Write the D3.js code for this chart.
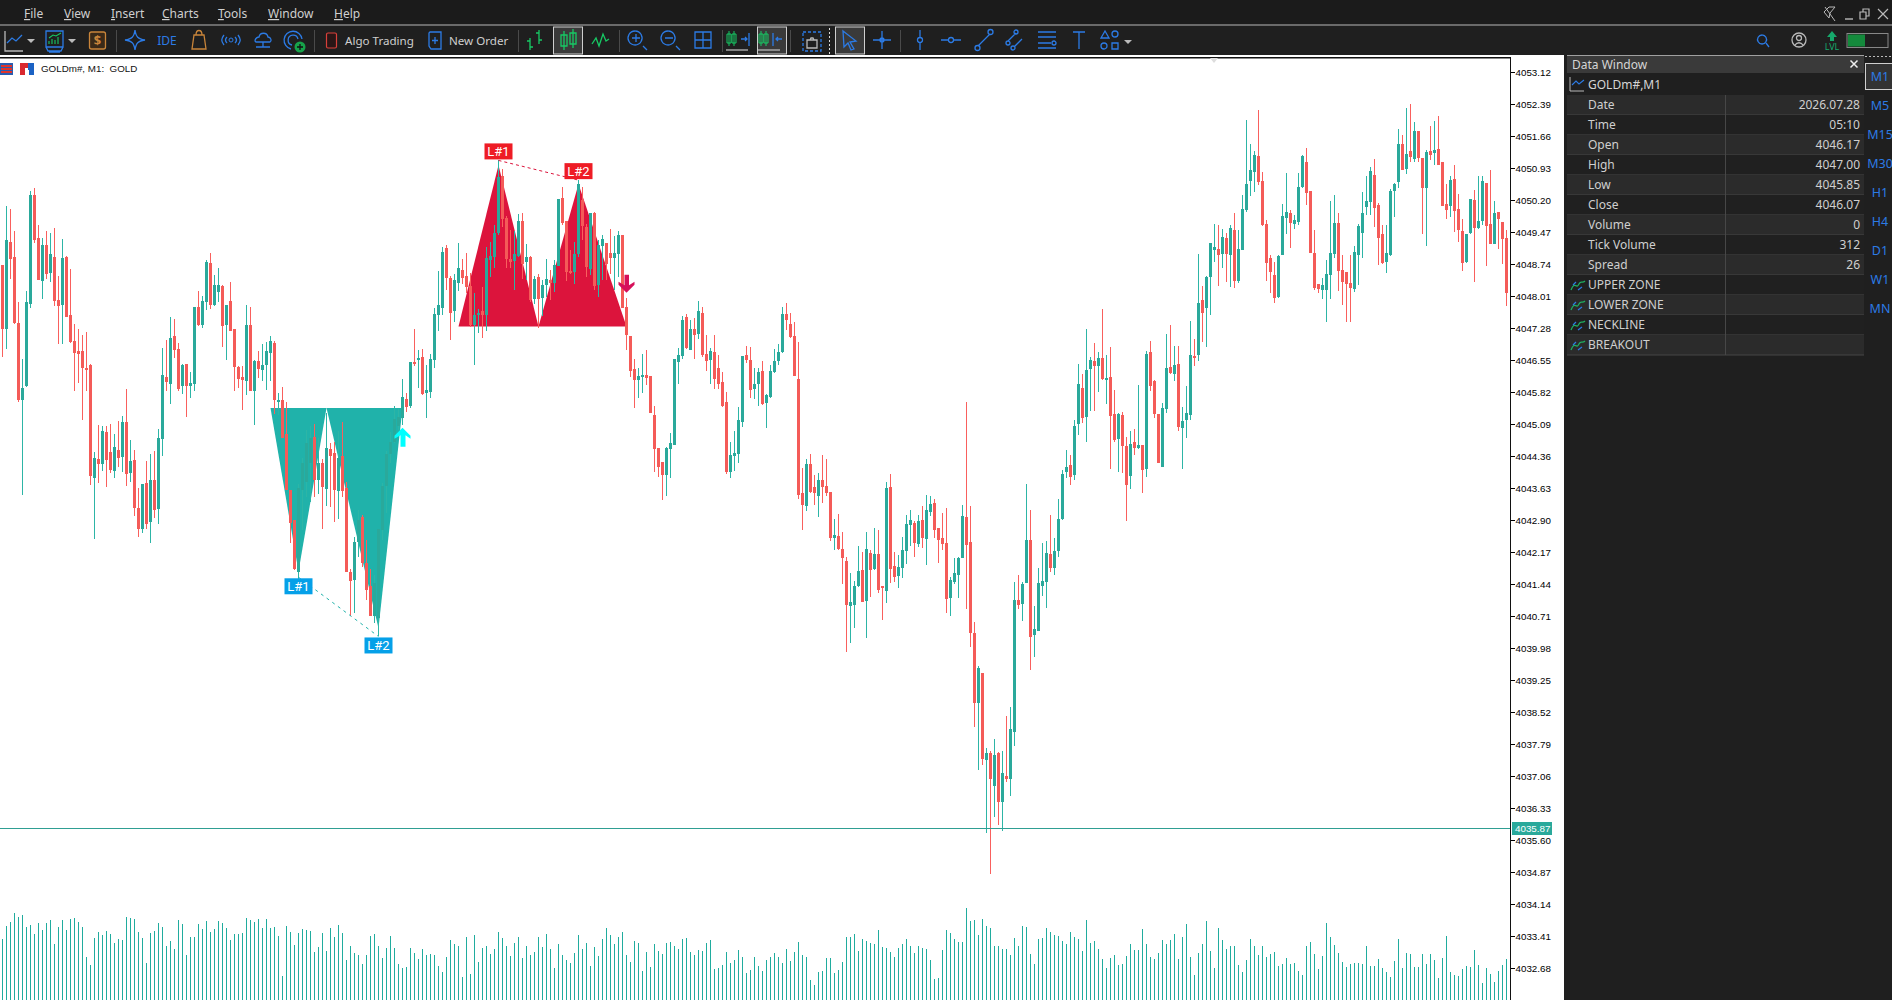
<!DOCTYPE html>
<html>
<head>
<meta charset="utf-8">
<title>GOLDm#, M1</title>
<script src="https://cdn.jsdelivr.net/npm/d3@7"></script>
<style>
html, body { margin: 0; padding: 0; background: #1f1f1f; overflow: hidden; }
svg { display: block; }
text { font-family: "Noto Sans", sans-serif; }
</style>
</head>
<body>
<svg id="chart" width="1892" height="1000"></svg>
<script>
// quotes are stored as the part above 4000
const priceBase = 4000;

const opens = [48.72,47.26,49.25,48.91,47.40,45.65,45.96,47.83,50.32,49.34,
48.36,49.18,48.54,48.91,47.93,47.81,48.91,47.58,46.99,46.76,
46.76,46.37,46.44,43.87,44.30,44.18,44.91,44.46,44.03,44.50,
44.34,45.14,43.98,44.28,43.18,42.70,43.75,42.86,43.82,43.16,
44.75,46.17,46.01,47.10,46.81,45.96,46.47,45.96,46.01,47.76,
47.36,47.88,48.77,47.81,48.11,48.25,47.36,47.90,47.26,46.40,
46.17,46.08,47.36,45.85,46.53,46.33,46.44,46.72,46.95,45.60,
45.65,44.87,43.59,42.91,41.73,43.59,43.78,44.20,44.79,43.82,
44.20,43.61,44.53,44.43,43.57,44.37,43.63,41.73,41.54,42.40,
42.98,41.92,41.39,40.72,40.66,42.68,43.68,44.41,44.69,45.04,
45.23,45.66,45.51,46.51,46.56,46.63,45.80,45.83,46.56,47.58,
47.74,49.11,48.43,47.68,48.31,48.61,48.47,48.25,47.36,47.58,
47.68,47.58,48.84,48.91,49.45,50.75,49.80,48.86,48.82,48.93,
49.73,48.79,48.91,47.95,48.45,47.97,48.27,48.38,48.31,48.70,
50.25,49.73,48.59,48.56,48.97,50.20,49.59,48.63,49.91,48.27,
49.16,49.23,49.00,48.88,48.97,49.41,47.77,47.10,46.35,46.10,
46.17,46.21,46.19,45.30,44.55,44.23,43.94,44.53,44.62,46.51,
46.65,47.54,46.79,47.26,47.15,47.63,46.69,46.56,46.74,46.38,
46.06,45.60,44.00,44.37,44.41,45.14,46.67,46.56,45.89,46.01,
46.30,45.58,45.71,46.28,46.53,46.74,47.61,47.38,47.10,46.12,
43.52,43.23,44.18,43.66,43.45,43.82,43.68,43.55,42.50,42.54,
42.25,41.97,40.94,40.97,41.40,41.77,41.06,42.15,41.79,42.13,
41.40,41.29,43.66,41.86,41.63,41.81,42.20,42.79,42.84,42.36,
42.91,42.48,43.09,43.29,42.72,42.50,42.38,41.13,41.49,41.65,
42.04,42.98,42.40,40.33,38.73,39.42,37.43,37.59,36.84,37.59,
36.47,37.07,37.00,38.07,41.08,40.99,41.47,42.45,40.29,40.38,
41.40,41.49,42.13,41.81,42.20,42.93,44.00,44.16,43.93,45.10,
45.92,45.26,46.35,46.54,46.42,46.60,46.10,46.17,45.33,44.76,
45.30,44.60,43.91,44.69,44.55,44.62,44.07,46.74,46.08,45.33,
44.12,45.44,46.40,46.24,46.47,45.01,45.19,45.30,46.65,46.67,
47.93,47.74,48.45,49.07,49.09,48.98,49.34,48.95,49.52,48.36,
49.07,49.98,50.64,50.85,51.21,50.64,49.66,48.88,48.50,47.99,
48.95,49.80,49.91,49.66,49.71,50.50,51.07,50.41,49.00,48.29,
48.15,48.15,48.50,48.98,49.68,48.61,48.56,48.31,48.18,48.95,
49.45,50.05,50.16,50.78,50.09,49.43,48.79,48.95,50.41,50.62,
51.48,50.91,51.32,51.14,51.78,51.16,50.48,51.32,51.28,51.37,
51.07,50.12,50.07,50.69,50.00,49.50,48.79,49.45,50.21,49.57,
49.73,50.59,49.66,49.20,49.93,49.70,49.34];

const highs = [48.72,50.07,50.00,49.50,47.88,46.58,48.13,50.41,50.48,49.64,
49.34,49.50,49.45,49.57,48.47,49.32,48.93,48.63,47.38,47.26,
47.13,47.20,46.47,44.46,45.07,45.05,45.05,45.10,44.87,45.17,
45.28,45.90,44.73,44.50,43.64,43.73,44.25,44.41,44.48,44.98,
46.83,47.01,47.54,47.49,46.95,46.47,46.47,46.28,47.76,48.13,
48.02,48.84,49.00,48.50,48.66,48.27,47.81,48.34,47.26,46.42,
46.42,47.81,47.76,46.56,46.76,46.92,46.97,47.10,46.99,45.80,
45.94,45.60,43.59,42.91,43.73,44.31,44.96,45.04,45.10,44.77,
44.29,45.34,44.66,44.69,44.94,45.15,43.78,41.79,42.53,43.13,
43.02,42.45,41.78,41.65,42.70,43.74,44.47,44.92,45.51,45.45,
46.12,45.80,46.51,47.26,46.78,46.80,46.44,46.69,47.74,48.59,
49.14,49.18,48.47,48.52,49.23,48.85,49.00,48.55,48.08,47.72,
48.22,49.13,49.25,49.64,51.11,50.91,49.84,49.52,49.50,49.89,
49.90,49.20,48.93,48.47,48.52,48.38,48.86,48.61,48.84,50.23,
50.50,49.73,49.07,49.25,50.66,50.51,49.67,49.91,49.94,49.30,
49.41,49.23,49.55,49.39,49.50,49.41,47.97,47.10,46.58,46.38,
46.69,46.79,46.19,45.51,44.55,44.23,44.57,44.89,46.58,46.83,
47.56,47.61,47.47,47.51,47.90,47.77,47.13,46.83,47.13,46.67,
46.28,45.83,44.69,44.94,45.49,46.65,46.88,46.85,46.38,46.38,
46.53,45.78,46.44,46.80,46.92,47.77,47.86,47.63,47.42,46.97,
44.09,44.30,44.41,43.93,43.98,44.39,44.30,43.55,42.93,43.04,
42.63,42.06,41.70,41.52,42.31,42.18,42.63,42.22,42.72,42.68,
41.40,43.77,43.96,42.18,42.11,42.52,43.02,43.13,42.89,43.02,
43.23,43.48,43.45,43.39,42.72,43.07,43.18,41.61,42.04,42.06,
43.25,45.60,43.23,40.58,39.58,39.42,37.71,37.64,37.91,37.62,
37.64,38.44,38.64,41.49,41.65,41.49,43.73,43.13,40.95,41.81,
42.38,42.43,43.02,42.50,43.39,44.05,44.50,44.39,45.19,46.47,
46.24,47.27,46.63,46.95,46.74,47.72,46.67,46.85,45.87,45.35,
45.37,44.80,44.94,44.98,45.99,44.62,46.76,46.99,46.10,45.33,
45.58,47.15,47.36,46.88,46.88,45.49,45.96,47.45,47.04,48.98,
48.25,48.47,49.23,49.66,49.64,49.55,49.45,49.64,49.91,49.52,
50.32,52.03,51.48,51.32,52.26,50.85,49.75,48.95,48.79,48.95,
50.12,50.82,49.98,49.86,50.82,51.23,51.39,50.41,49.52,48.29,
48.43,48.84,50.18,50.32,49.91,48.95,48.56,48.95,49.16,49.66,
50.39,50.75,50.96,51.14,50.14,49.64,49.64,50.46,50.59,51.83,
51.69,52.31,52.40,51.99,51.78,51.16,51.35,51.90,52.01,52.12,
51.07,50.57,50.75,51.01,50.34,49.77,49.43,50.23,50.44,50.75,
50.75,50.59,50.89,50.18,49.93,49.70,49.52];

const lows = [46.63,46.81,48.40,47.37,45.60,43.48,45.94,47.74,49.23,48.38,
47.95,48.41,48.34,47.79,46.92,46.92,47.54,46.95,45.85,46.03,
45.19,45.85,43.71,42.47,43.75,44.03,43.66,43.98,43.87,44.12,
44.00,43.68,43.77,43.00,42.52,42.61,42.70,42.38,42.95,42.82,
44.36,45.85,45.55,46.60,45.85,45.78,45.26,45.69,45.85,47.33,
47.29,47.70,47.72,47.79,47.88,46.85,46.56,47.22,45.85,45.92,
45.42,45.76,45.85,45.07,46.15,46.08,45.87,46.08,45.33,45.30,
44.78,43.59,42.38,41.77,41.50,42.68,43.44,43.32,43.44,43.50,
42.70,43.23,43.21,42.85,42.94,43.44,41.73,40.72,40.79,42.07,
41.84,41.08,40.72,40.55,40.25,42.45,43.06,44.20,44.66,44.96,
45.07,45.37,45.46,46.42,45.92,45.76,45.23,45.69,46.38,47.22,
47.58,48.15,47.01,47.42,48.13,48.29,48.08,47.30,46.44,47.17,
47.06,47.22,48.46,48.66,49.41,49.60,48.66,48.66,48.15,48.91,
48.40,48.38,47.88,47.84,47.29,47.55,48.00,47.92,48.11,48.70,
49.64,48.36,48.52,48.29,48.91,49.30,48.46,48.50,48.15,47.99,
48.38,48.38,48.53,48.15,48.46,47.74,46.79,46.17,45.46,45.69,
45.80,45.99,45.35,44.00,43.89,43.36,43.45,43.87,44.62,46.01,
46.58,46.80,46.79,46.58,47.03,46.63,46.30,46.01,45.89,45.89,
45.49,43.95,43.87,44.03,44.21,45.03,46.48,45.69,45.67,45.51,
45.53,45.00,45.69,46.26,46.44,46.72,47.24,47.06,46.19,43.39,
42.68,43.11,43.52,43.25,42.97,43.29,43.45,42.43,42.22,42.22,
41.45,39.90,40.10,40.44,41.38,41.04,40.21,41.15,41.77,41.24,
40.63,41.01,41.47,41.49,41.36,41.58,41.90,42.31,42.06,42.29,
42.27,41.88,43.00,42.50,41.93,42.22,40.79,40.72,41.45,41.13,
42.04,40.88,40.01,38.19,37.20,37.32,35.77,34.83,36.13,35.95,
35.81,36.93,36.61,37.75,40.88,40.60,41.47,39.49,39.78,40.38,
41.17,40.90,41.72,41.65,42.06,42.91,43.87,43.71,43.82,44.85,
45.12,44.69,45.39,45.39,45.83,46.10,45.55,44.07,44.69,44.00,
43.98,42.89,43.62,44.39,44.53,43.52,43.89,45.85,45.23,44.21,
44.12,45.35,46.24,46.08,44.94,44.07,44.78,45.19,46.42,46.54,
46.97,46.85,47.58,48.79,48.25,48.66,48.34,48.22,48.20,48.31,
49.07,49.93,50.30,50.39,50.55,49.61,48.36,48.09,47.86,47.97,
48.95,49.43,49.11,49.55,49.64,50.48,50.09,49.00,48.15,48.09,
47.95,47.42,47.95,48.88,48.13,47.81,47.42,47.42,48.11,48.27,
48.88,49.86,49.86,49.59,48.72,48.75,48.54,48.93,49.82,50.48,
50.89,50.80,51.07,51.07,51.07,49.43,49.16,51.12,51.01,51.01,
50.07,49.77,49.82,49.48,49.25,48.59,48.77,49.43,48.34,49.55,
49.64,48.70,49.20,49.20,49.09,48.75,47.79];

const closes = [47.26,49.29,48.86,47.39,45.65,45.92,47.88,50.32,49.29,48.38,
49.18,48.52,48.98,47.90,47.79,48.88,47.54,46.97,46.72,46.69,
46.37,46.33,43.91,44.32,44.18,44.94,44.28,44.05,44.57,44.32,
45.14,43.96,44.25,43.18,42.70,43.73,42.82,43.82,43.13,44.78,
46.21,46.05,47.06,46.78,45.90,46.44,45.96,46.03,47.76,47.36,
47.90,48.79,47.81,48.27,48.27,47.33,47.81,47.22,46.40,46.12,
46.10,47.36,45.85,46.53,46.35,46.44,46.76,46.99,45.65,45.65,
44.78,43.59,42.83,41.79,43.63,44.20,44.66,44.77,43.83,44.20,
43.67,44.54,44.37,43.59,44.33,43.57,41.73,41.52,42.40,42.91,
41.92,41.31,40.72,41.46,42.70,43.68,44.41,44.69,45.20,45.26,
45.71,45.48,46.51,46.47,46.60,45.78,45.87,46.58,47.61,47.81,
49.02,48.43,47.63,48.38,48.66,48.43,48.23,47.36,47.58,47.63,
47.58,48.88,48.93,49.45,50.73,49.77,48.86,48.79,48.97,49.73,
48.75,48.91,47.92,48.40,47.95,48.27,48.40,48.31,48.72,50.23,
49.68,48.56,48.54,48.97,50.57,49.61,48.68,49.91,48.25,49.18,
49.32,48.75,48.88,49.00,49.41,47.74,47.13,46.30,46.10,46.19,
46.21,46.15,45.35,44.53,44.12,43.94,44.55,44.66,46.58,46.67,
47.47,46.83,47.26,47.13,47.68,46.67,46.53,46.76,46.12,46.01,
45.51,44.00,44.39,44.44,45.19,46.65,46.56,45.87,46.01,46.28,
45.55,45.76,46.30,46.53,46.74,47.61,47.47,47.08,46.19,43.48,
43.25,44.18,43.55,43.52,43.82,43.66,43.52,42.50,42.56,42.25,
42.04,40.97,41.04,41.40,41.74,41.04,42.25,41.77,42.13,41.31,
41.36,43.64,41.79,41.61,41.83,42.22,42.82,42.91,42.38,42.89,
42.50,43.13,43.27,42.68,42.45,42.36,41.11,41.54,41.70,42.04,
43.00,42.34,40.33,38.73,39.53,37.46,37.59,37.00,37.55,36.47,
37.14,37.00,38.14,41.08,40.97,41.45,42.45,40.24,40.42,41.47,
41.52,42.15,41.81,42.20,42.93,43.96,44.12,43.89,45.05,46.01,
45.23,46.33,46.56,46.42,46.60,46.12,46.15,45.28,44.73,45.33,
44.60,43.71,44.64,44.55,44.62,44.05,46.69,45.96,45.33,44.21,
45.46,46.38,46.26,46.44,45.03,45.17,45.35,46.67,46.60,47.86,
47.63,48.45,49.23,49.13,48.95,49.36,48.98,49.57,48.36,49.09,
50.00,50.57,50.89,51.23,50.62,49.64,48.77,48.56,47.97,48.93,
49.84,49.93,49.68,49.75,50.50,51.21,50.37,49.00,48.20,48.18,
48.27,48.52,49.00,49.68,48.59,48.34,48.29,48.20,49.02,49.61,
49.91,50.18,50.87,50.02,49.34,48.77,49.00,50.41,50.57,51.48,
50.89,51.26,51.19,51.78,51.16,50.48,51.30,51.23,51.35,51.01,
50.07,49.98,50.66,49.96,49.52,48.77,49.43,50.23,49.57,49.73,
50.64,49.61,49.20,49.91,49.77,49.32,48.09];

const tickVolumes = [458,555,585,653,623,638,548,563,495,578,
525,578,600,420,548,600,525,608,615,585,
548,323,263,465,510,488,518,495,428,458,
450,623,615,608,510,465,278,503,518,578,
548,405,443,383,600,570,338,473,473,570,
533,593,510,533,593,578,540,450,495,495,
503,615,600,585,608,540,608,540,548,480,
180,555,510,413,503,533,525,518,360,398,
503,368,540,473,563,503,300,405,353,338,
270,338,480,495,405,315,390,480,390,270,
240,248,390,353,308,383,338,345,338,255,
210,323,450,420,405,173,473,195,488,285,
390,405,345,383,510,465,405,330,428,473,
315,405,338,360,473,398,495,383,240,420,
338,300,278,353,488,383,428,255,398,330,
458,540,488,420,473,510,338,285,443,428,
218,360,248,420,368,345,428,435,405,383,
458,465,360,338,375,368,428,450,233,240,
263,360,278,300,375,323,203,225,323,255,
218,300,323,353,323,278,383,293,360,435,
338,323,150,113,210,218,315,315,203,225,
285,473,473,495,368,458,443,428,420,525,
398,390,360,323,390,420,458,405,353,405,
390,383,300,158,165,375,525,503,458,435,
435,690,593,600,488,608,555,540,405,405,
383,383,338,465,405,555,548,345,270,458,
465,540,510,488,480,443,420,510,473,458,
368,600,428,443,383,308,240,315,338,263,
270,330,420,375,375,533,420,323,308,353,
450,420,450,495,308,473,570,323,188,353,
420,593,368,240,540,450,383,405,405,263,
210,300,458,405,338,405,323,345,360,255,
270,315,270,278,218,188,405,435,345,233,
330,578,473,413,353,285,248,270,278,278,
270,405,255,255,308,240,210,173,293,458,
240,353,345,248,248,345,270,345,300,165,
315,480,210,188,180,233,255,248,375,263,
128,240,195,135,218,263,308];

const priceTicks = [4053.12,4052.39,4051.66,4050.93,4050.20,4049.47,4048.74,4048.01,4047.28,4046.55,
4045.82,4045.09,4044.36,4043.63,4042.90,4042.17,4041.44,4040.71,4039.98,4039.25,4038.52,4037.79,
4037.06,4036.33,4035.60,4034.87,4034.14,4033.41,4032.68];
const bidPrice = 4035.87;

// [bar index, price] of the zone corners
const lowerZoneLeft = [[67,4045.46],[74,4041.73],[81,4045.46]];
const lowerZoneRight = [[81,4045.46],[94,4040.44],[100,4045.46]];
const upperZoneLeft = [[114,4047.32],[124,4051.00],[134,4047.32]];
const upperZoneRight = [[134,4047.32],[144,4050.57],[156,4047.32]];

const bearLabels = [{ text: "L#1", bar: 124, price: 4051.11 }, { text: "L#2", bar: 144, price: 4050.66 }];
const bullLabels = [{ text: "L#1", bar: 74, price: 4041.60 }, { text: "L#2", bar: 94, price: 4040.25 }];
const upArrow = { bar: 100, price: 4045.01 };
const downArrow = { bar: 156, price: 4048.09 };

const menuItems = [["File",24],["View",64],["Insert",111],["Charts",162],["Tools",218],["Window",268],["Help",334]];
const timeframes = ["M1","M5","M15","M30","H1","H4","D1","W1","MN"];
const dataRows = [["Date","2026.07.28"],["Time","05:10"],["Open","4046.17"],["High","4047.00"],["Low","4045.85"],
  ["Close","4046.07"],["Volume","0"],["Tick Volume","312"],["Spread","26"]];
const bufferRows = ["UPPER ZONE","LOWER ZONE","NECKLINE","BREAKOUT"];

const upBody = "#2aa99b", upWick = "#2db5a6", downBody = "#f45b58", downWick = "#f9605d";
const blue = "#2c7be5", orange = "#c9853a", green = "#17c964", grey = "#b9b9b9";

const svg = d3.select("#chart");

svg.append("rect").attr("width", 1892).attr("height", 1000).attr("fill", "#1f1f1f");
svg.append("rect").attr("y", 0).attr("width", 1892).attr("height", 24).attr("fill", "#1b1b1b");
svg.append("rect").attr("y", 24).attr("width", 1892).attr("height", 2).attr("fill", "#6a6a6a");
svg.append("rect").attr("y", 55).attr("width", 1564).attr("height", 945).attr("fill", "#fff");
svg.append("rect").attr("y", 57).attr("width", 1511).attr("height", 1.5).attr("fill", "#111");

svg.append("defs").append("clipPath").attr("id", "plot")
  .append("rect").attr("x", 0).attr("y", 58).attr("width", 1510).attr("height", 942);

// scales
const bars = d3.range(opens.length);
const x = d3.scaleLinear().domain([0, opens.length - 1]).range([2.5, 1506.5]);
const y = d3.scaleLinear().domain([4053.12, 4032.68]).range([72.3, 968.3]);
const volY = d3.scaleLinear().domain([0, 750]).range([1000, 900]);
const isUp = i => closes[i] >= opens[i];

const plot = svg.append("g").attr("clip-path", "url(#plot)");

// zones sit under the candles
const zoneArea = d3.line().x(d => x(d[0])).y(d => y(d[1]));
[[lowerZoneLeft, "#20b2aa"], [lowerZoneRight, "#20b2aa"], [upperZoneLeft, "#dc143c"], [upperZoneRight, "#dc143c"]]
  .forEach(([zone, fill]) => {
    plot.append("path").attr("d", zoneArea(zone) + "Z").attr("fill", fill);
  });

// candles
plot.append("g").attr("shape-rendering", "crispEdges").selectAll("rect").data(bars).enter().append("rect")
  .attr("x", i => x(i) - 0.5)
  .attr("width", 1)
  .attr("y", i => y(priceBase + highs[i]))
  .attr("height", i => y(priceBase + lows[i]) - y(priceBase + highs[i]))
  .attr("fill", i => isUp(i) ? upWick : downWick);

plot.append("g").attr("shape-rendering", "crispEdges").selectAll("rect").data(bars).enter().append("rect")
  .attr("x", i => x(i) - 1.5)
  .attr("width", 3)
  .attr("y", i => y(priceBase + Math.max(opens[i], closes[i])))
  .attr("height", i => Math.max(1.5, Math.abs(y(priceBase + opens[i]) - y(priceBase + closes[i]))))
  .attr("fill", i => isUp(i) ? upBody : downBody);

// tick volume
plot.append("g").attr("shape-rendering", "crispEdges").selectAll("rect").data(bars).enter().append("rect")
  .attr("x", i => x(i) - 0.5)
  .attr("width", 1)
  .attr("y", i => volY(tickVolumes[i]))
  .attr("height", i => volY(0) - volY(tickVolumes[i]))
  .attr("fill", "#20ac9e");

// bid line
const bidY = Math.round(y(bidPrice)) + 0.5;
plot.append("line").attr("x1", 0).attr("x2", 1510).attr("y1", bidY).attr("y2", bidY)
  .attr("stroke", "#2f9f93").attr("stroke-width", 1).attr("shape-rendering", "crispEdges");

// dashed links between the two tops / bottoms
const linkLine = d3.line().x(d => x(d.bar)).y(d => y(d.price));
plot.append("path").attr("d", linkLine(bullLabels)).attr("stroke", "#20b2aa").attr("stroke-dasharray", "3,4").attr("fill", "none");
plot.append("path").attr("d", linkLine(bearLabels)).attr("stroke", "#dc143c").attr("stroke-dasharray", "3,3").attr("fill", "none");

function drawLabels(list, fill, below) {
  const g = plot.selectAll(null).data(list).enter().append("g")
    .attr("transform", d => `translate(${x(d.bar)},${y(d.price) + (below ? 1 : -17)})`);
  g.append("rect").attr("x", -14).attr("width", 28).attr("height", 16).attr("fill", fill);
  g.append("text").attr("y", 12.8).attr("text-anchor", "middle").attr("fill", "#fff")
    .style("font-size", "13px").style("font-family", "Roboto").text(d => d.text);
}
drawLabels(bullLabels, "#05a0e8", true);
drawLabels(bearLabels, "#ee1c25", false);

// breakout arrows
plot.append("path")
  .attr("transform", `translate(${x(upArrow.bar)},${y(upArrow.price)})`)
  .attr("d", "M0,0L8,8V11L3,7.5V19H-2V7.5L-8,11V8Z")
  .attr("fill", "#00ffff");
plot.append("path")
  .attr("transform", `translate(${x(downArrow.bar)},${y(downArrow.price)})`)
  .attr("d", "M0,0L-8,-8V-11L-2,-7.5V-18H2.5V-7.5L8,-11V-8Z")
  .attr("fill", "#d6105a");

// price axis
const axis = d3.axisRight(y).tickValues(priceTicks).tickFormat(d3.format(".2f")).tickSize(4).tickPadding(1);
const axisG = svg.append("g").attr("transform", "translate(1510.5,0)").call(axis);
axisG.select(".domain").remove();
axisG.selectAll("line").attr("stroke", "#000").attr("shape-rendering", "crispEdges");
axisG.selectAll("text").attr("fill", "#000").style("font-family", "Liberation Sans").style("font-size", "9.8px");
svg.append("rect").attr("x", 1510).attr("y", 57).attr("width", 1).attr("height", 943).attr("fill", "#111");

// bid tag
svg.append("rect").attr("x", 1512).attr("y", bidY - 6.5).attr("width", 40).attr("height", 13).attr("fill", "#2aa99b");
svg.append("text").attr("x", 1515).attr("y", bidY + 3.5).attr("fill", "#fff")
  .style("font-family", "Liberation Sans").style("font-size", "9.8px").text(d3.format(".2f")(bidPrice));

svg.append("path").attr("d", "M1210,58h8l-4,5Z").attr("fill", "#ddd");

// chart caption
const cap = svg.append("g");
cap.append("rect").attr("x", 0).attr("y", 63).attr("width", 13).attr("height", 12).attr("fill", "#2a5db0");
[66, 69, 72].forEach(v => cap.append("rect").attr("x", 1).attr("y", v - 1).attr("width", 11).attr("height", 2).attr("fill", "#e0352b"));
cap.append("path").attr("d", "M20,63h14v12h-5v-7h-4v7h-5Z").attr("fill", "#d9282f");
cap.append("path").attr("d", "M28,63h6v12h-5v-5h-1Z").attr("fill", "#1b62c4");
svg.append("text").attr("x", 41).attr("y", 72).attr("fill", "#111").style("font-size", "9.8px").style("font-family", "Liberation Sans").text("GOLDm#, M1:\u00a0\u00a0GOLD");

// menu
const menu = svg.selectAll(null).data(menuItems).enter().append("text")
  .attr("x", d => d[1]).attr("y", 18).attr("fill", "#cfcfcf").style("font-size", "12px");
menu.append("tspan").style("text-decoration", "underline").text(d => d[0][0]);
menu.append("tspan").text(d => d[0].slice(1));

// toolbar helpers
function icon(px, py, color, path, sw, dash) {
  svg.append("path").attr("transform", `translate(${px},${py})`).attr("d", path)
    .attr("fill", "none").attr("stroke", color).attr("stroke-width", sw || 1.3)
    .attr("stroke-dasharray", dash || null);
}
function caret(px, py) {
  svg.append("path").attr("d", `M${px - 4},${py}h8l-4,4Z`).attr("fill", "#bbb");
}
function selected(px) {
  svg.append("rect").attr("x", px).attr("y", 27).attr("width", 29).attr("height", 27).attr("fill", "#3a3a3a").attr("stroke", "#cfcfcf");
}
[116, 314, 518, 619, 722, 790, 900].forEach(v =>
  svg.append("rect").attr("x", v).attr("y", 30).attr("width", 1).attr("height", 22).attr("fill", "#4a4a4a"));
selected(553.5); selected(757.5); selected(835.5);

// chart type + templates
icon(5, 31, grey, "M0,0V20H18");
icon(5, 31, blue, "M2,12L7,7L11,10L17,4");
caret(31, 39);
icon(45, 31, blue, "M1,0H18V16H1ZM4,21H15M1,16L3,20H16L18,16");
icon(45, 31, green, "M4,13V10M7,13V8M10,13V9M13,13V6M4,7L8,4L11,5L16,2", 1.1);
caret(72, 39);
svg.append("rect").attr("x", 89.5).attr("y", 32).attr("width", 16).attr("height", 17).attr("rx", 2).attr("fill", "#3a2a18").attr("stroke", orange).attr("stroke-width", 1.3);
svg.append("text").attr("x", 97.5).attr("y", 45).attr("text-anchor", "middle").attr("fill", orange).style("font-size", "13px").style("font-weight", 700).text("$");

icon(135, 40, blue, "M0,-10C1,-3 3,-1 10,0C3,1 1,3 0,10C-1,3 -3,1 -10,0C-3,-1 -1,-3 0,-10Z");
svg.append("text").attr("x", 167).attr("y", 45).attr("text-anchor", "middle").attr("fill", blue).style("font-size", "12px").text("IDE");
icon(199, 40, orange, "M-7,9L-5,-5H5L7,9ZM-3,-5C-3,-11 3,-11 3,-5");
icon(231, 40, blue, "M-7,-5C-10,-1 -10,1 -7,5M7,-5C10,-1 10,1 7,5M-4,-3C-6,-1 -6,1 -4,3M4,-3C6,-1 6,1 4,3");
svg.append("circle").attr("cx", 231).attr("cy", 40).attr("r", 2).attr("fill", "none").attr("stroke", blue);
icon(263, 40, blue, "M-8,1C-8,-2 -5,-3 -4,-3C-3,-8 4,-8 5,-3C8,-3 9,1 7,2H-7ZM0,2V7M-7,7H7");
icon(293, 40, blue, "M-2,9A9,9 0 1 1 9,-1M-1,5A5,5 0 1 1 5,-1");
svg.append("circle").attr("cx", 300).attr("cy", 47).attr("r", 5.5).attr("fill", "#17a34a");
icon(300, 47, "#111", "M-3,0H3M0,-3V3");

// algo trading + new order
svg.append("rect").attr("x", 326.5).attr("y", 33).attr("width", 10).attr("height", 15).attr("rx", 1.5).attr("fill", "#2a1616").attr("stroke", "#d9403a").attr("stroke-width", 1.2);
svg.append("text").attr("x", 345).attr("y", 45).attr("fill", "#cfcfcf").style("font-size", "11.6px").text("Algo Trading");
icon(429, 32, blue, "M1,0H12V17H2L0,14V1ZM6,5V12M3,8.5H9");
svg.append("text").attr("x", 449).attr("y", 45).attr("fill", "#cfcfcf").style("font-size", "11.6px").text("New Order");

// chart modes
icon(535, 40, green, "M-5,-2V10M-5,1H-8M-5,7H-2M4,-10V4M4,-7H1M4,0H7");
icon(569, 40, green, "M-5,-9V10M-8,-5H-2V6H-8ZM4,-11V8M1,-7H7V4H1Z");
icon(600, 40, green, "M-8,4L-4,-2L-1,6L3,-6L6,1L9,-1");

// zoom + grid
icon(637, 40, blue, "M6,6L10,10M-2,-9A7,7 0 1 0 -1.9,-9M-5,-2H3M-1,-6V2");
icon(670, 40, blue, "M6,6L10,10M-2,-9A7,7 0 1 0 -1.9,-9M-5,-2H3");
icon(703, 40, blue, "M-8,-8H8V8H-8ZM-8,0H8M0,-8V8");

// scroll modes
icon(731, 40, green, "M-2,-9V6M-4,-6H0V3H-4ZM3,-9V6M1,-6H5V3H1Z", 1);
icon(741, 40, blue, "M8,-7V6M0,-1H6M4,-3L6,-1L4,1");
icon(731, 40, grey, "M-5,10H17");
icon(763, 40, green, "M-2,-9V6M-4,-6H0V3H-4ZM3,-9V6M1,-6H5V3H1Z", 1);
icon(773, 40, blue, "M0,-7V6M9,-1H3M5,-3L3,-1L5,1");
icon(763, 40, grey, "M-5,10H17");

// screenshot
icon(803, 31, blue, "M0,1H18V20H0Z", 1.3, "3,2");
icon(812, 43, grey, "M-5,-3H5V5H-5ZM-2,-3L-1,-5H1L2,-3");
svg.append("line").attr("x1", 829.5).attr("x2", 829.5).attr("y1", 28).attr("y2", 55).attr("stroke", "#ddd").attr("stroke-dasharray", "2,2");

// tools
icon(849, 40, blue, "M-6,-9L7,1L1,2L5,9L2,10L-1,3L-5,7Z");
icon(882, 40, blue, "M0,-9V9M-9,0H9M-2,0A2,2 0 1 0 2,0A2,2 0 1 0 -2,0");
icon(920, 40, blue, "M0,-10V-2.5M0,2.5V10M-2.5,0A2.5,2.5 0 1 0 2.5,0A2.5,2.5 0 1 0 -2.5,0");
icon(951, 40, blue, "M-10,0H-2.5M2.5,0H10M-2.5,0A2.5,2.5 0 1 0 2.5,0A2.5,2.5 0 1 0 -2.5,0");
icon(984, 40, blue, "M-6,6L6,-6M-9,8A2.5,2.5 0 1 0 -4,8A2.5,2.5 0 1 0 -9,8M4,-8A2.5,2.5 0 1 0 9,-8A2.5,2.5 0 1 0 4,-8");
icon(1015, 40, blue, "M-7,1L1,-7M-1,7L7,-1M-9,3A2,2 0 1 0 -5,3A2,2 0 1 0 -9,3M-1,-8A2,2 0 1 0 3,-8A2,2 0 1 0 -1,-8M-4,8A2,2 0 1 0 0,8A2,2 0 1 0 -4,8");
icon(1047, 40, blue, "M-9,-8H9M-9,-3H9M-9,3H4M-9,8H9M5,3A2,2 0 1 0 9,3A2,2 0 1 0 5,3");
icon(1079, 40, blue, "M-6,-8H6M0,-8V9");
icon(1109, 40, blue, "M-8,-2L-4,-9L0,-2ZM3,-6A3,3 0 1 0 9,-6A3,3 0 1 0 3,-6M-8,6A3,3 0 1 0 -2,6A3,3 0 1 0 -8,6M3,3H9V9H3Z");
caret(1128, 40);

// right of the toolbar
icon(1763, 40, blue, "M3,3L6,7M-1,-5A4.5,4.5 0 1 0 -0.9,-5");
icon(1799, 40, grey, "M-7,0A7,7 0 1 0 7,0A7,7 0 1 0 -7,0M-2.5,-2A2.5,2.5 0 1 0 2.5,-2A2.5,2.5 0 1 0 -2.5,-2M-4,5C-2,2 2,2 4,5");
svg.append("path").attr("d", "M1832,31l5,6h-3v4h-4v-4h-3Z").attr("fill", "#16a86b");
svg.append("text").attr("x", 1832).attr("y", 50).attr("text-anchor", "middle").attr("fill", "#16a86b").style("font-size", "9px").text("LVL");
svg.append("rect").attr("x", 1847).attr("y", 33.5).attr("width", 41).attr("height", 14).attr("fill", "#1f1f1f").attr("stroke", "#888");
svg.append("rect").attr("x", 1848).attr("y", 34.5).attr("width", 17).attr("height", 12).attr("fill", "#148a3c");

// window buttons
icon(1830, 14, grey, "M-5,-7L5,7M-1,-7H5L0,-1L-1,4L-6,-2Z", 1);
icon(1849, 14, grey, "M-4,5H4", 1.4);
icon(1864, 14, grey, "M-4,-2H2V5H-4ZM-1,-2V-5H5V2H2", 1.2);
icon(1883, 14, grey, "M-5,-5L5,5M5,-5L-5,5", 1.2);

// data window
svg.append("rect").attr("x", 1567).attr("y", 55).attr("width", 297).attr("height", 18).attr("fill", "#3a3a3a");
svg.append("rect").attr("x", 1567).attr("y", 55).attr("width", 297).attr("height", 1).attr("fill", "#a0a0a0");
svg.append("text").attr("x", 1572).attr("y", 69).attr("fill", "#d5d5d5").style("font-size", "12px").text("Data Window");
icon(1854, 64, "#eee", "M-3.5,-3.5L3.5,3.5M3.5,-3.5L-3.5,3.5", 1.5);
icon(1570, 77, grey, "M0,0V14H14", 1);
icon(1570, 77, blue, "M2,8L6,4L9,7L14,3", 1.1);
svg.append("text").attr("x", 1588).attr("y", 89).attr("fill", "#d5d5d5").style("font-size", "12px").text("GOLDm#,M1");

const panelRows = dataRows.concat(bufferRows.map(d => [d, ""]));
const rowY = d3.scaleBand().domain(d3.range(panelRows.length)).range([95, 355]);
const row = svg.selectAll(null).data(panelRows).enter().append("g")
  .attr("transform", (d, i) => `translate(0,${rowY(i)})`);
row.append("rect").attr("x", 1567).attr("width", 297).attr("height", 20)
  .attr("fill", (d, i) => i % 2 ? "#202020" : "#2b2b2b");
row.append("rect").attr("x", 1567).attr("y", 19.5).attr("width", 297).attr("height", 1).attr("fill", "#474747");
row.append("rect").attr("x", 1725).attr("width", 1).attr("height", 20).attr("fill", "#474747");
row.append("text").attr("x", 1588).attr("y", 14).attr("fill", "#cfcfcf").style("font-size", "12px").text(d => d[0]);
row.append("text").attr("x", 1860).attr("y", 14).attr("text-anchor", "end").attr("fill", "#cfcfcf").style("font-size", "12px").text(d => d[1]);
const bufferIcons = row.filter((d, i) => i >= dataRows.length);
bufferIcons.append("path")
  .attr("d", "M1571,15C1575,5 1576,15 1579,9C1581,5 1582,9 1585,6")
  .attr("fill", "none").attr("stroke", "#1fae62").attr("stroke-width", 1.3);
bufferIcons.append("path")
  .attr("d", "M1573,10L1576,7M1578,15L1582,12")
  .attr("fill", "none").attr("stroke", "#2c7be5").attr("stroke-width", 1.2);

// timeframes
svg.append("line").attr("x1", 1865).attr("x2", 1892).attr("y1", 56.5).attr("y2", 56.5).attr("stroke", "#bbb").attr("stroke-dasharray", "2,2");
svg.append("rect").attr("x", 1865.5).attr("y", 63.5).attr("width", 27).attr("height", 26).attr("fill", "#333").attr("stroke", "#cfcfcf");
const tfY = d3.scalePoint().domain(timeframes).range([81, 313]);
svg.selectAll(null).data(timeframes).enter().append("text")
  .attr("x", 1880).attr("y", d => tfY(d)).attr("text-anchor", "middle").attr("fill", blue).style("font-size", "12.5px").text(d => d);
</script>
</body>
</html>
